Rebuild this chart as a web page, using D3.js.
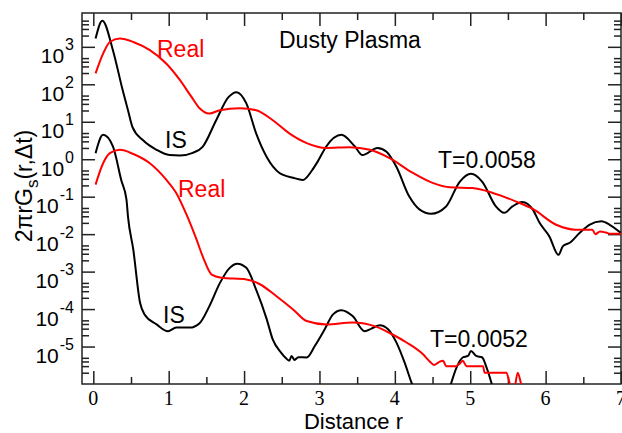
<!DOCTYPE html>
<html>
<head>
<meta charset="utf-8">
<title></title>
<style>
  body { margin: 0; background: #fff; }
  svg text { font-family: "Liberation Sans", Arial, sans-serif; }
</style>
</head>
<body>
<script src="https://cdnjs.cloudflare.com/ajax/libs/d3/7.8.5/d3.min.js"></script>
<script>

var w = 622, h = 433;
var margin = {top: 13, right: 1, bottom: 49, left: 82};

// T=0.0058, IS
var isHighX = [0.03, 0.12, 0.26, 0.39, 0.46, 0.52, 0.66, 0.84, 1.01, 1.15, 1.32, 1.45, 1.63, 1.79, 1.90, 2.03, 2.16, 2.30, 2.47, 2.65, 2.78, 2.90, 2.98, 3.09, 3.29, 3.47, 3.57, 3.77, 3.89, 4.02, 4.19, 4.33, 4.48, 4.68, 4.86, 5.01, 5.16, 5.34, 5.45, 5.56, 5.69, 5.83, 5.92, 6.05, 6.17, 6.23, 6.32, 6.45, 6.58, 6.74, 6.85, 7.00];
var isHighY = [1660, 5000, 813, 69, 20.4, 7.2, 3.2, 1.78, 1.29, 1.26, 1.48, 2.14, 11, 44.7, 61.7, 30.9, 4.9, 1.15, 0.43, 0.32, 0.28, 0.5, 0.89, 2.19, 4.47, 2.19, 1.29, 2.0, 1.58, 0.63, 0.102, 0.045, 0.035, 0.055, 0.25, 0.41, 0.25, 0.055, 0.037, 0.055, 0.072, 0.045, 0.02, 0.0087, 0.0028, 0.0048, 0.0059, 0.0107, 0.0178, 0.022, 0.0178, 0.0107];

// T=0.0058, Real
var realHighX = [0.03, 0.13, 0.22, 0.35, 0.53, 0.75, 0.97, 1.15, 1.30, 1.41, 1.54, 1.68, 1.94, 2.16, 2.38, 2.60, 2.83, 3.09, 3.40, 3.67, 3.93, 4.24, 4.50, 4.73, 5.03, 5.30, 5.61, 5.83, 6.14, 6.40, 6.62, 6.66, 6.72, 6.80, 6.86, 7.00];
var realHighY = [195, 660, 1350, 1660, 1350, 813, 355, 129, 46.8, 22.9, 16.6, 20.4, 22.9, 20.4, 11, 4.9, 2.7, 2.0, 2.09, 1.78, 1.07, 0.43, 0.234, 0.178, 0.17, 0.126, 0.074, 0.047, 0.0178, 0.0132, 0.0132, 0.01, 0.0117, 0.011, 0.0102, 0.0102];

// T=0.0052, IS
var isLowX = [0.03, 0.13, 0.26, 0.37, 0.44, 0.46, 0.53, 0.62, 0.68, 0.84, 0.99, 1.10, 1.28, 1.41, 1.54, 1.68, 1.81, 1.91, 2.03, 2.16, 2.30, 2.38, 2.49, 2.55, 2.60, 2.63, 2.67, 2.72, 2.83, 2.94, 3.07, 3.18, 3.29, 3.44, 3.60, 3.69, 3.80, 3.91, 4.02, 4.13, 4.22, 4.35, 4.50, 4.65, 4.75, 4.81, 4.90, 4.97, 5.01, 5.08, 5.16, 5.21, 5.28, 5.36];
var isLowY = [1.45, 4.47, 2.19, 0.28, 0.083, 0.0295, 0.0039, 1.48e-4, 7.2e-5, 3.9e-5, 2.57e-5, 3.2e-5, 3.2e-5, 4.2e-5, 1.2e-4, 5.0e-4, 1.26e-3, 1.62e-3, 1.26e-3, 3.3e-4, 5.4e-5, 1.55e-5, 6.9e-6, 5.0e-6, 4.2e-6, 5.6e-6, 4.4e-6, 5.2e-6, 5.1e-6, 1.05e-5, 2.9e-5, 7.2e-5, 9.3e-5, 6.5e-5, 2.57e-5, 3.0e-5, 3.7e-5, 2.9e-5, 1.29e-5, 3.7e-6, 1.1e-6, 2.5e-7, 1e-7, 2.5e-7, 1.1e-6, 2.5e-6, 5.1e-6, 5.6e-6, 7.6e-6, 5.6e-6, 5.1e-6, 3.0e-6, 1.1e-6, 2.5e-7];

// T=0.0052, Real
var realLowX = [0.03, 0.13, 0.22, 0.35, 0.53, 0.75, 0.97, 1.10, 1.24, 1.37, 1.46, 1.57, 1.70, 2.03, 2.21, 2.43, 2.65, 2.83, 3.09, 3.44, 3.75, 3.93, 4.15, 4.37, 4.48, 4.52, 4.58, 4.64, 4.68, 4.81, 4.86, 4.90, 4.95, 5.17, 5.19, 5.48, 5.52, 5.57, 5.63, 5.67, 5.75];
var realLowY = [0.21, 0.78, 1.45, 1.78, 1.38, 0.78, 0.28, 0.126, 0.032, 0.0071, 0.0023, 8.3e-4, 6.9e-4, 6.2e-4, 4.6e-4, 2.2e-4, 9.8e-5, 4.8e-5, 3.9e-5, 4.4e-5, 3.4e-5, 2.3e-5, 1.3e-5, 6.3e-6, 3.7e-6, 3.2e-6, 3.8e-6, 4.2e-6, 3.0e-6, 3.0e-6, 3.5e-6, 4.2e-6, 3.0e-6, 3.0e-6, 2.0e-6, 2.0e-6, 1.1e-6, 5e-7, 2.0e-6, 1.1e-6, 3e-7];

var xTicks = [0, 1, 2, 3, 4, 5, 6, 7];
var xMinor = [0.5, 1.5, 2.5, 3.5, 4.5, 5.5, 6.5];
var yExps = [-5, -4, -3, -2, -1, 0, 1, 2, 3];

var x = d3.scaleLinear().domain([-0.15, 7]).range([margin.left, w - margin.right]);
var y = d3.scaleLog().domain([1e-6, 8000]).range([h - margin.bottom, margin.top]);

var svg = d3.select("body").append("svg").attr("width", w).attr("height", h);

svg.append("clipPath").attr("id", "clip")
    .append("rect")
    .attr("x", margin.left).attr("y", margin.top)
    .attr("width", w - margin.right - margin.left)
    .attr("height", h - margin.bottom - margin.top);

// minor log ticks: 2..5 in each decade
var yMinor = [];
for (var e = -6; e <= 3; e++) {
    [2, 3, 4, 5].forEach(function(m) {
        var v = m * Math.pow(10, e);
        if (v > 1e-6 && v < 8000) yMinor.push(v);
    });
}
var yMajor = yExps.map(function(e) { return Math.pow(10, e); });

var x0 = margin.left, x1 = w - margin.right, y0 = h - margin.bottom, y1 = margin.top;

function axisStyle(g) {
    g.selectAll("path.domain").remove();
    g.selectAll("line").attr("stroke", "#222").attr("stroke-width", 1.5);
    g.selectAll("text").remove();
}

// bottom axis
svg.append("g").attr("transform", "translate(0," + y0 + ")")
    .call(d3.axisBottom(x).tickValues(xMinor).tickSize(-7)).call(axisStyle);
svg.append("g").attr("transform", "translate(0," + y0 + ")")
    .call(d3.axisBottom(x).tickValues(xTicks).tickSize(-13)).call(axisStyle);
// top axis
svg.append("g").attr("transform", "translate(0," + y1 + ")")
    .call(d3.axisTop(x).tickValues(xMinor).tickSize(-7)).call(axisStyle);
svg.append("g").attr("transform", "translate(0," + y1 + ")")
    .call(d3.axisTop(x).tickValues(xTicks).tickSize(-13)).call(axisStyle);
// left axis
svg.append("g").attr("transform", "translate(" + x0 + ",0)")
    .call(d3.axisLeft(y).tickValues(yMinor).tickSize(-7)).call(axisStyle);
svg.append("g").attr("transform", "translate(" + x0 + ",0)")
    .call(d3.axisLeft(y).tickValues(yMajor).tickSize(-13)).call(axisStyle);
// right axis
svg.append("g").attr("transform", "translate(" + x1 + ",0)")
    .call(d3.axisRight(y).tickValues(yMinor).tickSize(-7)).call(axisStyle);
svg.append("g").attr("transform", "translate(" + x1 + ",0)")
    .call(d3.axisRight(y).tickValues(yMajor).tickSize(-13)).call(axisStyle);

// frame
svg.append("rect")
    .attr("x", x0).attr("y", y1)
    .attr("width", x1 - x0).attr("height", y0 - y1)
    .attr("fill", "none").attr("stroke", "#222").attr("stroke-width", 1.5);

// x tick labels (serif)
svg.selectAll("text.xt").data(xTicks).enter().append("text")
    .attr("class", "xt")
    .attr("x", function(d) { return x(d); })
    .attr("y", y0 + 21)
    .attr("text-anchor", "middle")
    .style("font-family", "'Liberation Serif', 'Times New Roman', serif")
    .style("font-size", "20px")
    .text(function(d) { return d; });

// y tick labels 10^n
var yl = svg.selectAll("text.yt").data(yExps).enter().append("text")
    .attr("class", "yt")
    .attr("x", x0 - 8)
    .attr("y", function(d) { return y(Math.pow(10, d)) + 16.5; })
    .attr("text-anchor", "end")
    .style("font-size", "21px");
yl.append("tspan").text("10");
yl.append("tspan").attr("dx", 1).attr("dy", -13).style("font-size", "16px").text(function(d) { return d; });

// axis titles
svg.append("text")
    .attr("x", (x0 + x1) / 2 + 2)
    .attr("y", h - 4)
    .attr("text-anchor", "middle")
    .style("font-size", "22px")
    .text("Distance r");

var yt = svg.append("text")
    .attr("transform", "translate(32," + 186 + ") rotate(-90)")
    .attr("text-anchor", "middle")
    .style("font-size", "23px");
yt.append("tspan").text("2\u03C0rG");
yt.append("tspan").attr("dy", 6).style("font-size", "17px").text("s");
yt.append("tspan").attr("dy", -6).text("(r,\u0394t)");

// curves
var series = [
    {xs: isHighX, ys: isHighY, color: "#000"},
    {xs: realHighX, ys: realHighY, color: "#ff0000"},
    {xs: isLowX, ys: isLowY, color: "#000"},
    {xs: realLowX, ys: realLowY, color: "#ff0000"}
];

var line = d3.line()
    .x(function(d) { return x(d[0]); })
    .y(function(d) { return y(d[1]); })
    .curve(d3.curveMonotoneX);

var plot = svg.append("g").attr("clip-path", "url(#clip)");
plot.selectAll("path.curve").data(series).enter().append("path")
    .attr("class", "curve")
    .attr("d", function(s) { return line(d3.zip(s.xs, s.ys)); })
    .attr("fill", "none")
    .attr("stroke", function(s) { return s.color; })
    .attr("stroke-width", 2);

// annotations
var notes = [
    {t: "Dusty Plasma", x: 279, y: 48, c: "#000"},
    {t: "Real", x: 157, y: 57, c: "#ff0000"},
    {t: "IS", x: 165, y: 148, c: "#000"},
    {t: "Real", x: 178, y: 197, c: "#ff0000"},
    {t: "IS", x: 163, y: 323, c: "#000"},
    {t: "T=0.0058", x: 438, y: 168, c: "#000"},
    {t: "T=0.0052", x: 430, y: 347, c: "#000"}
];
svg.selectAll("text.note").data(notes).enter().append("text")
    .attr("class", "note")
    .attr("x", function(d) { return d.x; })
    .attr("y", function(d) { return d.y; })
    .attr("fill", function(d) { return d.c; })
    .style("font-size", "23px")
    .text(function(d) { return d.t; });

</script>
</body>
</html>
